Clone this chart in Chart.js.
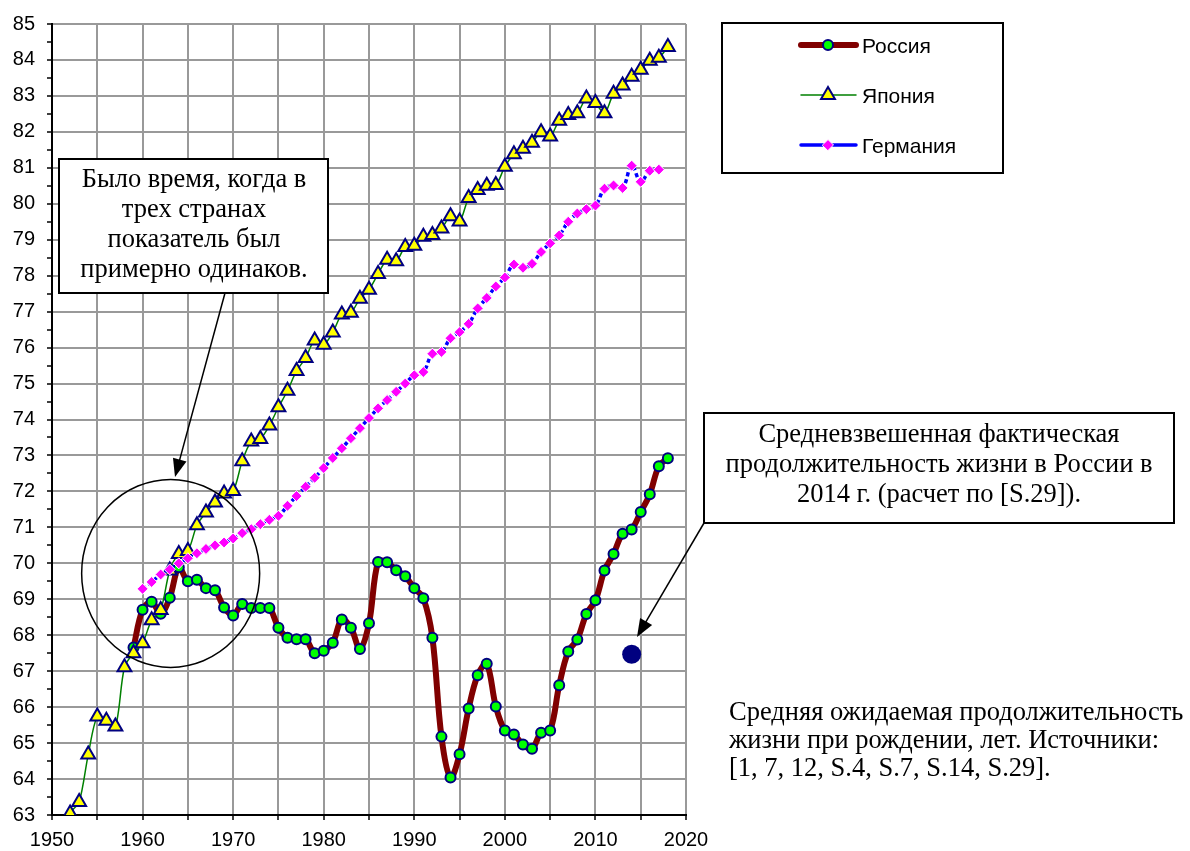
<!DOCTYPE html>
<html>
<head>
<meta charset="utf-8">
<script src="https://cdn.jsdelivr.net/npm/chart.js@4/dist/chart.umd.min.js"></script>
<style>
  body { margin: 0; background: #fff; }
  #wrap { width: 1190px; height: 851px; }
</style>
</head>
<body>
<div id="wrap"><canvas id="lifeChart" width="1190" height="851"></canvas></div>
<script>
// years 1951..2018, one value per year (null = no data)
const years = [
  1951, 1952, 1953, 1954, 1955, 1956, 1957, 1958, 1959,
  1960, 1961, 1962, 1963, 1964, 1965, 1966, 1967, 1968, 1969,
  1970, 1971, 1972, 1973, 1974, 1975, 1976, 1977, 1978, 1979,
  1980, 1981, 1982, 1983, 1984, 1985, 1986, 1987, 1988, 1989,
  1990, 1991, 1992, 1993, 1994, 1995, 1996, 1997, 1998, 1999,
  2000, 2001, 2002, 2003, 2004, 2005, 2006, 2007, 2008, 2009,
  2010, 2011, 2012, 2013, 2014, 2015, 2016, 2017, 2018
];

const russia = [
  null, null, null, null, null, null, null, null, 67.66,
  68.71, 68.93, 68.6, 69.04, 69.89, 69.5, 69.54, 69.31, 69.25, 68.77,
  68.55, 68.87, 68.76, 68.76, 68.76, 68.21, 67.93, 67.89, 67.89, 67.5,
  67.57, 67.79, 68.44, 68.21, 67.62, 68.33, 70.04, 70.03, 69.81, 69.64,
  69.31, 69.03, 67.93, 65.18, 64.04, 64.69, 65.96, 66.89, 67.21, 66.02,
  65.35, 65.24, 64.96, 64.84, 65.29, 65.35, 66.61, 67.55, 67.88, 68.59,
  68.97, 69.8, 70.26, 70.82, 70.94, 71.43, 71.92, 72.7, 72.92
];

const japan = [
  61.5, 63.04, 63.36, 64.68, 65.74, 65.62, 65.46, 67.11, 67.5,
  67.78, 68.42, 68.7, 69.8, 70.26, 70.34, 71.06, 71.41, 71.69, 71.94,
  72.01, 72.84, 73.39, 73.46, 73.83, 74.34, 74.8, 75.35, 75.71, 76.2,
  76.08, 76.42, 76.92, 76.97, 77.36, 77.61, 78.05, 78.44, 78.4, 78.8,
  78.83, 79.08, 79.13, 79.31, 79.65, 79.51, 80.16, 80.38, 80.5, 80.52,
  81.03, 81.38, 81.53, 81.7, 81.99, 81.87, 82.31, 82.47, 82.52, 82.93,
  82.8, 82.52, 83.06, 83.29, 83.53, 83.73, 83.98, 84.06, 84.36
];

const germany = [
  null, null, null, null, null, null, null, null, null,
  69.29, 69.48, 69.69, 69.83, 70.0, 70.14, 70.28, 70.4, 70.5, 70.58,
  70.69, 70.84, 70.95, 71.09, 71.21, 71.32, 71.6, 71.87, 72.13, 72.38,
  72.65, 72.93, 73.2, 73.48, 73.76, 74.04, 74.31, 74.54, 74.77, 75.0,
  75.23, 75.32, 75.83, 75.88, 76.26, 76.43, 76.66, 77.09, 77.38, 77.7,
  77.95, 78.31, 78.22, 78.33, 78.66, 78.9, 79.12, 79.5, 79.73, 79.85,
  79.95, 80.42, 80.51, 80.44, 81.06, 80.61, 80.92, 80.95, null
];

// weighted actual life expectancy in Russia, 2014
const estimateYears = [2014];
const estimateValues = [67.47];

const seriesNames = ["Россия", "Япония", "Германия"];

const note1 = ["Было время, когда в", "трех странах", "показатель был", "примерно одинаков."];
const note2 = ["Средневзвешенная фактическая", "продолжительность жизни в России в", "2014 г. (расчет по [S.29])."];
const note3 = ["Средняя ожидаемая продолжительность", "жизни при рождении, лет. Источники:", "[1, 7, 12, S.4, S.7, S.14, S.29]."];

const toPoints = (vals) => years.map((y, i) => ({ x: y, y: vals[i] }));

const russiaStyle = {
  borderColor: "#800000", borderWidth: 6, pointStyle: "circle", pointRadius: 5,
  pointBackgroundColor: "#00ff00", pointBorderColor: "#000080", pointBorderWidth: 2,
};
const japanStyle = {
  borderColor: "#008000", borderWidth: 1.5, pointStyle: "triangle", pointRadius: 8,
  pointBackgroundColor: "#ffff00", pointBorderColor: "#000080", pointBorderWidth: 2,
};
const germanyStyle = {
  borderColor: "#0000ff", borderWidth: 3.5, borderDash: [4, 3], pointStyle: "rectRot", pointRadius: 5.5,
  pointBackgroundColor: "#ff00ff", pointBorderColor: "#ffffff", pointBorderWidth: 1,
};

function arrow(ctx, x1, y1, x2, y2) {
  const a = Math.atan2(y2 - y1, x2 - x1);
  ctx.beginPath();
  ctx.moveTo(x1, y1);
  ctx.lineTo(x2 - Math.cos(a) * 12, y2 - Math.sin(a) * 12);
  ctx.stroke();
  ctx.beginPath();
  ctx.moveTo(x2, y2);
  ctx.lineTo(x2 - 18 * Math.cos(a) + 7 * Math.sin(a), y2 - 18 * Math.sin(a) - 7 * Math.cos(a));
  ctx.lineTo(x2 - 18 * Math.cos(a) - 7 * Math.sin(a), y2 - 18 * Math.sin(a) + 7 * Math.cos(a));
  ctx.closePath();
  ctx.fill();
}

function textBox(ctx, x, y, w, h, lines, firstBase, cx) {
  ctx.fillStyle = "#fff";
  ctx.fillRect(x, y, w, h);
  ctx.strokeStyle = "#000";
  ctx.lineWidth = 2;
  ctx.strokeRect(x, y, w, h);
  ctx.fillStyle = "#000";
  ctx.textAlign = "center";
  ctx.textBaseline = "alphabetic";
  lines.forEach((l, i) => ctx.fillText(l, cx, firstBase + i * 30));
}

const notesPlugin = {
  id: "notes",
  afterDraw(chart) {
    const ctx = chart.ctx;
    const xs = chart.scales.x, ys = chart.scales.y;
    ctx.save();
    ctx.font = "26.5px 'Liberation Serif'";
    ctx.strokeStyle = "#000";
    ctx.fillStyle = "#000";

    // circle around the 1960s crossing
    ctx.lineWidth = 1.5;
    ctx.beginPath();
    ctx.ellipse(xs.getPixelForValue(1963.1), ys.getPixelForValue(69.72), 89, 94, 0, 0, Math.PI * 2);
    ctx.stroke();

    textBox(ctx, 59, 159, 269, 134, note1, 187, 194);
    ctx.lineWidth = 1.5;
    arrow(ctx, 225, 293, 175, 477);

    textBox(ctx, 704, 413, 470, 110, note2, 442, 939);
    ctx.lineWidth = 1.5;
    arrow(ctx, 704, 523, 637, 637);

    ctx.textAlign = "left";
    note3.forEach((l, i) => ctx.fillText(l, 729, 720 + i * 28));

    // legend
    ctx.fillStyle = "#fff";
    ctx.fillRect(722, 23, 281, 150);
    ctx.strokeStyle = "#000";
    ctx.lineWidth = 2;
    ctx.strokeRect(722, 23, 281, 150);
    const styles = [russiaStyle, japanStyle, germanyStyle];
    const rowY = [45, 95, 145];
    ctx.font = "21px 'Liberation Sans'";
    ctx.textBaseline = "middle";
    styles.forEach((s, i) => {
      const y = rowY[i];
      ctx.strokeStyle = s.borderColor;
      ctx.lineWidth = s.borderWidth;
      ctx.lineCap = "round";
      ctx.setLineDash([]);
      ctx.beginPath();
      ctx.moveTo(801, y);
      ctx.lineTo(856, y);
      ctx.stroke();
      ctx.fillStyle = s.pointBackgroundColor;
      ctx.strokeStyle = s.pointBorderColor;
      ctx.lineWidth = s.pointBorderWidth;
      Chart.helpers.drawPoint(ctx, { pointStyle: s.pointStyle, radius: s.pointRadius, rotation: 0, borderWidth: s.pointBorderWidth }, 828, y);
      ctx.fillStyle = "#000";
      ctx.fillText(seriesNames[i], 862, y + 2);
    });
    ctx.restore();
  },
};

new Chart(document.getElementById("lifeChart").getContext("2d"), {
  type: "line",
  data: {
    datasets: [
      Object.assign({ label: seriesNames[2], data: toPoints(germany), tension: 0.4, order: 0 }, germanyStyle),
      Object.assign({ label: seriesNames[1], data: toPoints(japan), tension: 0.3, order: 1 }, japanStyle),
      Object.assign({ label: seriesNames[0], data: toPoints(russia), tension: 0.35, order: 2 }, russiaStyle),
      {
        label: "2014",
        data: estimateYears.map((y, i) => ({ x: y, y: estimateValues[i] })),
        showLine: false, pointRadius: 9.5, pointBackgroundColor: "#000080",
        pointBorderColor: "#000080", pointBorderWidth: 0, order: 3,
      },
    ],
  },
  options: {
    responsive: false,
    animation: false,
    layout: { padding: { top: 16, right: 504, left: 0, bottom: 0 } },
    plugins: { legend: { display: false }, tooltip: { enabled: false } },
    scales: {
      x: {
        type: "linear", min: 1950, max: 2020,
        afterFit: (s) => { s.height = 36; },
        border: { color: "#000", width: 2 },
        grid: { color: "#999", lineWidth: 2, tickColor: "#000", tickLength: 5, tickWidth: 1.5 },
        ticks: {
          stepSize: 5, autoSkip: false, maxRotation: 0, padding: 8, color: "#000",
          font: { family: "'Liberation Sans'", size: 20 },
          callback: (v) => (v % 10 === 0 ? v : ""),
        },
      },
      y: {
        min: 63, max: 85,
        afterFit: (s) => { s.width = 52; },
        border: { color: "#000", width: 2 },
        grid: {
          color: (c) => (Number.isInteger(c.tick.value) ? "#999" : "rgba(0,0,0,0)"),
          lineWidth: 2, tickColor: "#000", tickLength: 5, tickWidth: 1.5,
        },
        ticks: {
          stepSize: 0.5, autoSkip: false, padding: 12, color: "#000",
          font: { family: "'Liberation Sans'", size: 20 },
          callback: (v) => (Number.isInteger(v) ? v : ""),
        },
      },
    },
  },
  plugins: [notesPlugin],
});
</script>
</body>
</html>
